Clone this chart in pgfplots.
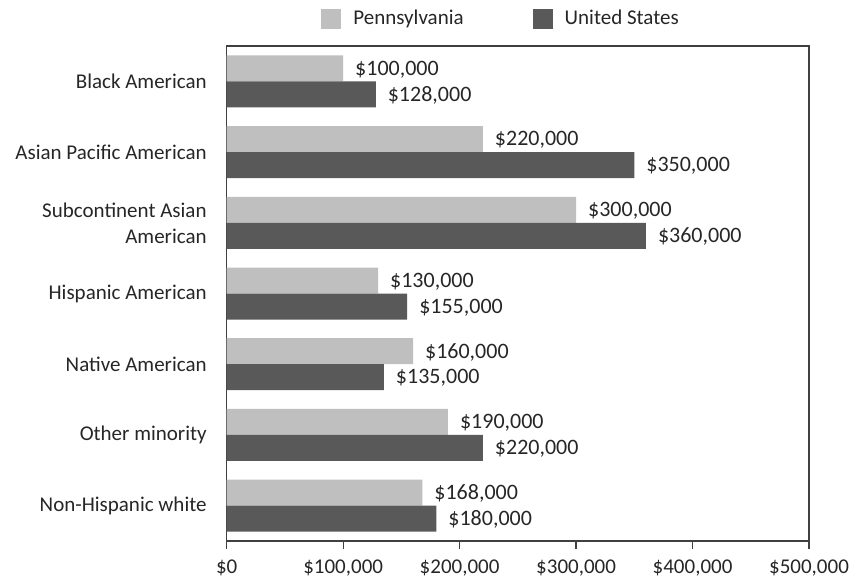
\documentclass[border=0pt]{standalone}
\usepackage{pgfplots}
\pgfplotsset{compat=1.18}
\usepackage{fontspec}
\setmainfont{Carlito}
\definecolor{paGray}{HTML}{BFBFBF}
\definecolor{usGray}{HTML}{595959}
\definecolor{txt}{HTML}{262626}
\definecolor{frame}{HTML}{404040}
\begin{document}
\begin{tikzpicture}[font=\fontsize{10.5pt}{13pt}\selectfont]
\useasboundingbox (-113.35pt,-21.5pt) rectangle (316.65pt,270.5pt);
\begin{axis}[
  at={(0,0)}, anchor=south west,
  scale only axis, width=291.15pt, height=247.5pt,
  xbar, bar width=13pt,
  xmin=0, xmax=500000, ymin=-0.5, ymax=6.5,
  y dir=reverse,
  ytick={0,...,6},
  yticklabels={Black American, Asian Pacific American, {Subcontinent Asian\\American}, Hispanic American, Native American, Other minority, Non-Hispanic white},
  yticklabel style={align=right, xshift=-2.5pt, text=txt},
  ytick style={draw=none},
  xtick={0,100000,200000,300000,400000,500000},
  xticklabels={{\$0},{\$100,000},{\$200,000},{\$300,000},{\$400,000},{\$500,000}},
  xticklabel style={text=txt, yshift=-2pt},
  xtick pos=bottom, tick align=outside, major tick length=4pt,
  xtick style={draw=frame, line width=0.6pt},
  axis line style={draw=frame, line width=0.6pt},
  scaled x ticks=false,
  /pgf/number format/assume math mode=true,
  nodes near coords={\$\pgfmathprintnumber[fixed,precision=0,1000 sep={,},assume math mode=true]{\pgfplotspointmeta}},
  point meta=x,
  every node near coord/.append style={text=txt, xshift=2.5pt, yshift=-0.5pt, font=\fontsize{11pt}{13pt}\selectfont},
  legend columns=2,
  legend style={at={(0.162,1)}, anchor=west, yshift=13.5pt, draw=none, fill=none, inner sep=0pt,
    text=txt, font=\fontsize{10.5pt}{13pt}\selectfont,
    /tikz/every odd column/.append style={column sep=4pt},
    /tikz/every even column/.append style={column sep=32.5pt}},
  legend image code/.code={\fill[#1] (0pt,-5pt) rectangle (10pt,5pt);},
]
\addplot[fill=paGray, draw=none, bar shift=6.5pt] coordinates {
  (100000,0) (220000,1) (300000,2) (130000,3) (160000,4) (190000,5) (168000,6)};
\addlegendentry{Pennsylvania}
\addplot[fill=usGray, draw=none, bar shift=-6.5pt] coordinates {
  (128000,0) (350000,1) (360000,2) (155000,3) (135000,4) (220000,5) (180000,6)};
\addlegendentry{United States}
\end{axis}
\end{tikzpicture}
\end{document}
